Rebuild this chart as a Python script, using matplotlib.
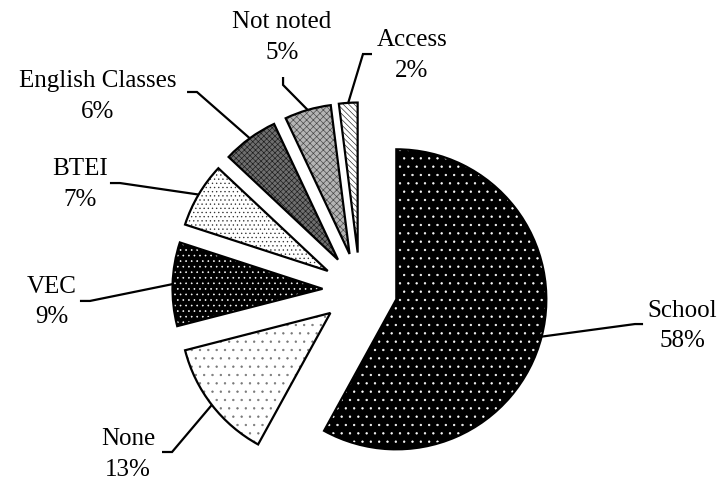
import numpy as np
import matplotlib.pyplot as plt

plt.rcParams['font.family'] = ['Liberation Serif', 'DejaVu Serif']
plt.rcParams['hatch.linewidth'] = 0.45

# Data
labels = ['School', 'None', 'VEC', 'BTEI', 'English Classes', 'Not noted', 'Access']
shares = [58, 13, 9, 7, 6, 5, 2]

# Fill styles per slice
face_colors = ['#000000', '#ffffff', '#000000', '#ffffff', '#6e6e6e', '#b4b4b4', '#ffffff']
hatch_colors = ['#ffffff', '#777777', '#ffffff', '#333333', '#1a1a1a', '#444444', '#222222']
hatches = ['..', '..', '...', '....', 'xxxxxx', 'xxxxx', '\\\\\\\\\\\\']

# Label layout (data units, pie radius = 1)
label_pos = [(2.147, -0.24), (-1.547, -1.097), (-2.053, -0.08), (-1.867, 0.703),
             (-1.747, 1.29), (-0.52, 1.683), (0.347, 1.563)]
knee_pos = [(1.833, -0.227), (-1.253, -1.08), (-1.80, -0.073), (-1.60, 0.713),
            (-1.087, 1.32), (-0.513, 1.367), (0.02, 1.573)]
end_pos = [(1.887, -0.227), (-1.32, -1.08), (-1.867, -0.073), (-1.667, 0.713),
           (-1.153, 1.32), (-0.513, 1.42), (0.08, 1.573)]

explode_amt = 0.25
explode = [explode_amt] * len(shares)

fig = plt.figure(figsize=(7.22, 4.82), dpi=100)
ax = fig.add_axes([0, 0, 1, 1])

# hatched fills first, then outlines on top
wedges, _ = ax.pie(shares, explode=explode, startangle=90, counterclock=False,
                   colors=face_colors, hatch=hatches,
                   wedgeprops=dict(linewidth=0))
for w, hc in zip(wedges, hatch_colors):
    w.set_edgecolor(hc)
    w.set_linewidth(0)

outlines, _ = ax.pie(shares, explode=explode, startangle=90, counterclock=False,
                     wedgeprops=dict(fill=False, edgecolor='black', linewidth=1.6))

# leader lines from arc midpoints to labels
for i, w in enumerate(wedges):
    mid = np.radians((w.theta1 + w.theta2) / 2)
    ax_pt = ((1 + explode_amt) * np.cos(mid), (1 + explode_amt) * np.sin(mid))
    kx, ky = knee_pos[i]
    ex, ey = end_pos[i]
    ax.plot([ax_pt[0], kx, ex], [ax_pt[1], ky, ey], color='black', lw=1.6,
            solid_capstyle='butt', solid_joinstyle='miter')
    lx, ly = label_pos[i]
    ax.text(lx, ly, f'{labels[i]}\n{shares[i]}%', ha='center', va='center',
            fontsize=18, linespacing=1.5)

ax.set_xlim(-2.4, 2.4133)
ax.set_ylim(-1.28, 1.9333)
ax.set_aspect('auto')
ax.axis('off')

fig.savefig('out.png', dpi=100)
